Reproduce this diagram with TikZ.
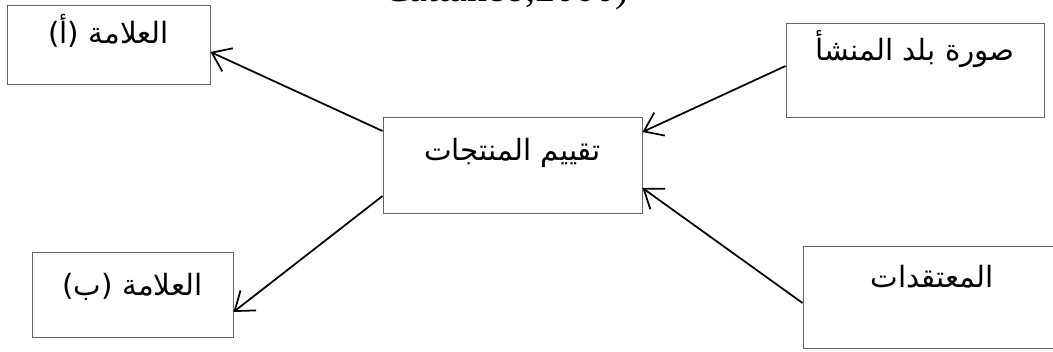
\documentclass[tikz,border=0pt]{standalone}
\usepackage{fontspec}
\usetikzlibrary{arrows.meta}
\TeXXeTstate=1
\newfontfamily\arabicfont[Script=Arabic]{DejaVu Sans}
\newfontfamily\citefont{Liberation Serif}
\begin{document}
\begin{tikzpicture}[x=0.75pt,y=-0.75pt,
  box/.style={draw=black!60, line width=0.7pt, rectangle, inner sep=0pt},
  lbl/.style={anchor=base, inner sep=0pt, font=\arabicfont\fontsize{22}{26}\selectfont},
  arr/.style={-{Straight Barb[length=13pt,width=19pt,line width=1.3pt]}, line width=1.3pt, black}]
\useasboundingbox (0,0) rectangle (1053,351);

% citation line running off the top edge
\node[anchor=base west, inner sep=0pt, font=\citefont\fontsize{30}{34}\selectfont] (cite) at (383,1) {Cattaneo,2000)};

% boxes
\node[box, minimum width=152.25pt, minimum height=59.25pt] (a) at (108.5,44.5) {};
\node[box, minimum width=193.5pt, minimum height=70.5pt] (org) at (915,70) {};
\node[box, minimum width=194.25pt, minimum height=72pt] (ctr) at (512.5,165) {};
\node[box, minimum width=150.75pt, minimum height=63.75pt] (b) at (132.5,294.5) {};
\node[box, minimum width=193.5pt, minimum height=76.5pt] (blf) at (932,297) {};

% labels
\node[lbl] (ta) at (108.5,43) {\beginR العلامة (أ)\endR};
\node[lbl] (torg) at (915,60) {\beginR صورة بلد المنشأ\endR};
\node[lbl] (tctr) at (512.5,160) {\beginR تقييم المنتجات\endR};
\node[lbl] (tb) at (132.5,295) {\beginR العلامة (ب)\endR};
\node[lbl] (tblf) at (932,287) {\beginR المعتقدات\endR};

% connectors
\draw[arr] ([yshift=25.5pt]ctr.west) -- ([yshift=-5.6pt]a.east);
\draw[arr] ([yshift=-23.25pt]ctr.west) -- ([yshift=-13.1pt]b.east);
\draw[arr] ([yshift=3pt]org.west) -- ([yshift=24.75pt]ctr.east);
\draw[arr] ([yshift=-4.5pt]blf.west) -- ([yshift=-17.25pt]ctr.east);
\end{tikzpicture}
\end{document}
